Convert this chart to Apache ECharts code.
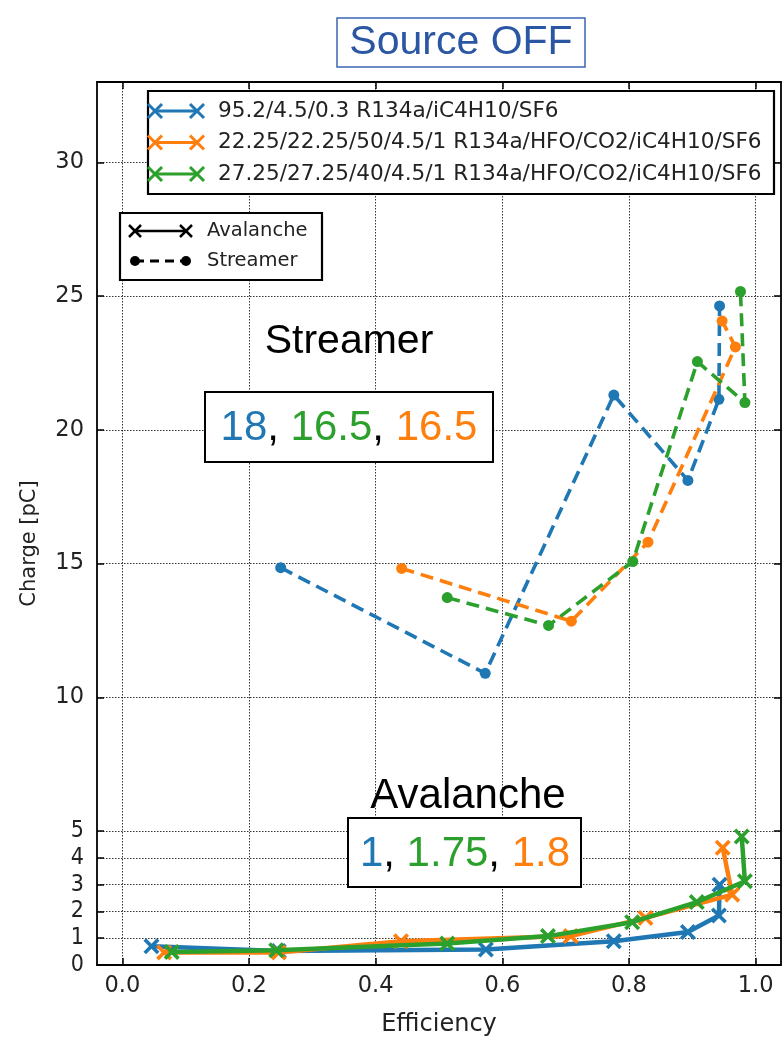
<!DOCTYPE html>
<html><head><meta charset="utf-8">
<script src="https://cdn.jsdelivr.net/npm/echarts@6/dist/echarts.min.js"></script>
<style>html,body{margin:0;padding:0;background:#fff}#c{width:783px;height:1039px}</style>
</head><body><div id="c"></div>
<script>
// ---- data ----
const seriesNames = ['95.2/4.5/0.3 R134a/iC4H10/SF6', '22.25/22.25/50/4.5/1 R134a/HFO/CO2/iC4H10/SF6', '27.25/27.25/40/4.5/1 R134a/HFO/CO2/iC4H10/SF6'];
const colors = ['#1f77b4', '#ff7f0e', '#2ca02c'];

const avaBlueX = [0.046, 0.247, 0.574, 0.776, 0.893, 0.942, 0.943];
const avaBlueY = [0.70, 0.52, 0.58, 0.89, 1.23, 1.85, 3.00];
const strBlueX = [0.250, 0.573, 0.776, 0.893, 0.942, 0.943];
const strBlueY = [14.85, 10.90, 21.30, 18.11, 21.14, 24.63];

const avaOrangeX = [0.066, 0.247, 0.440, 0.708, 0.826, 0.963, 0.948];
const avaOrangeY = [0.47, 0.47, 0.89, 1.08, 1.76, 2.63, 4.38];
const strOrangeX = [0.441, 0.709, 0.830, 0.968, 0.947];
const strOrangeY = [14.82, 12.85, 15.80, 23.10, 24.07];

const avaGreenX = [0.078, 0.243, 0.513, 0.672, 0.805, 0.907, 0.983, 0.978];
const avaGreenY = [0.49, 0.55, 0.80, 1.08, 1.60, 2.35, 3.13, 4.80];
const strGreenX = [0.513, 0.673, 0.806, 0.908, 0.983, 0.976];
const strGreenY = [13.73, 12.69, 15.08, 22.55, 21.02, 25.17];

const yTicks = [0, 1, 2, 3, 4, 5, 10, 15, 20, 25, 30];
const xTicks = [0, 0.2, 0.4, 0.6, 0.8, 1.0];
const streamerValues = ['18', '16.5', '16.5'];   // blue, green, orange
const avalancheValues = ['1', '1.75', '1.8'];    // blue, green, orange

// ---- helpers ----
const zip = (xs, ys) => xs.map((x, i) => [x, ys[i]]);
const XSYM = 'path://M0,1.6L1.6,0L5,3.4L8.4,0L10,1.6L6.6,5L10,8.4L8.4,10L5,6.6L1.6,10L0,8.4L3.4,5Z';
const FONT = 'DejaVu Sans';
const HFONT = 'Liberation Sans';

const groups = [
  [avaBlueX, avaBlueY, strBlueX, strBlueY],
  [avaOrangeX, avaOrangeY, strOrangeX, strOrangeY],
  [avaGreenX, avaGreenY, strGreenX, strGreenY]
];
const series = [];
groups.forEach((g, i) => {
  series.push({
    name: seriesNames[i] + ' Avalanche', type: 'line', data: zip(g[0], g[1]),
    symbol: XSYM, symbolSize: 16, showSymbol: true,
    itemStyle: { color: colors[i] },
    lineStyle: { color: colors[i], width: 4.5 },
    z: 3 + i, animation: false, silent: true
  });
  series.push({
    name: seriesNames[i] + ' Streamer', type: 'line', data: zip(g[2], g[3]),
    symbol: 'circle', symbolSize: 11, showSymbol: true,
    itemStyle: { color: colors[i] },
    lineStyle: { color: colors[i], width: 3.6, type: [13, 7] },
    z: 3 + i, animation: false, silent: true
  });
});

const gridLine = { show: true, lineStyle: { color: '#333', width: 1, type: [1.5, 1.5] } };
const tickStyle = { show: true, inside: true, length: 7, lineStyle: { color: '#000', width: 1.5 } };
const lineStyleAx = { show: true, onZero: false, lineStyle: { color: '#000', width: 1.8 } };

// ---- legend graphics ----
function xMark(cx, cy, color, h, w) {
  return [
    { type: 'line', shape: { x1: cx - h, y1: cy - h, x2: cx + h, y2: cy + h }, style: { stroke: color, lineWidth: w }, z: 101 },
    { type: 'line', shape: { x1: cx - h, y1: cy + h, x2: cx + h, y2: cy - h }, style: { stroke: color, lineWidth: w }, z: 101 }
  ];
}
const graphics = [];
// legend 1
graphics.push({ type: 'rect', shape: { x: 148, y: 91, width: 626, height: 103 }, style: { fill: '#fff', stroke: '#000', lineWidth: 2.2 }, z: 100 });
seriesNames.forEach((n, i) => {
  const y = 111 + i * 31.5;
  graphics.push({ type: 'line', shape: { x1: 155, y1: y, x2: 197, y2: y }, style: { stroke: colors[i], lineWidth: 3 }, z: 101 });
  graphics.push(...xMark(155, y, colors[i], 7, 3), ...xMark(197, y, colors[i], 7, 3));
  graphics.push({ type: 'text', x: 218, y: y, style: { text: n, font: '21.6px "' + FONT + '"', fill: '#222', verticalAlign: 'middle' }, z: 101 });
});
// legend 2
graphics.push({ type: 'rect', shape: { x: 120, y: 213, width: 202, height: 67 }, style: { fill: '#fff', stroke: '#000', lineWidth: 2.2 }, z: 100 });
graphics.push({ type: 'line', shape: { x1: 135, y1: 231, x2: 186, y2: 231 }, style: { stroke: '#000', lineWidth: 2.5 }, z: 101 });
graphics.push(...xMark(135, 231, '#000', 6, 2.5), ...xMark(186, 231, '#000', 6, 2.5));
graphics.push({ type: 'text', x: 207, y: 231, style: { text: 'Avalanche', font: '19.5px "' + FONT + '"', fill: '#222', verticalAlign: 'middle' }, z: 101 });
graphics.push({ type: 'line', shape: { x1: 135, y1: 261, x2: 186, y2: 261 }, style: { stroke: '#000', lineWidth: 2.8, lineDash: [9, 6] }, z: 101 });
graphics.push({ type: 'circle', shape: { cx: 135, cy: 261, r: 5 }, style: { fill: '#000' }, z: 101 });
graphics.push({ type: 'circle', shape: { cx: 186, cy: 261, r: 5 }, style: { fill: '#000' }, z: 101 });
graphics.push({ type: 'text', x: 207, y: 261, style: { text: 'Streamer', font: '19.5px "' + FONT + '"', fill: '#222', verticalAlign: 'middle' }, z: 101 });

// title
graphics.push({ type: 'rect', shape: { x: 337, y: 18, width: 248, height: 49 }, style: { fill: '#fff', stroke: '#3a66b3', lineWidth: 1.5 }, z: 100 });
graphics.push({ type: 'text', x: 461, y: 43, style: { text: 'Source OFF', font: '41px "' + HFONT + '"', fill: '#2b56a3', align: 'center', verticalAlign: 'middle' }, z: 101 });

// annotations
const richVals = (size) => ({
  b: { fill: colors[0], fontSize: size, fontFamily: HFONT },
  g: { fill: colors[2], fontSize: size, fontFamily: HFONT },
  o: { fill: colors[1], fontSize: size, fontFamily: HFONT },
  k: { fill: '#000', fontSize: size, fontFamily: HFONT }
});
graphics.push({ type: 'text', x: 349, y: 342, style: { text: 'Streamer', font: '41px "' + HFONT + '"', fill: '#000', align: 'center', verticalAlign: 'middle' }, z: 101 });
graphics.push({ type: 'rect', shape: { x: 205, y: 392, width: 288, height: 70 }, style: { fill: '#fff', stroke: '#000', lineWidth: 2 }, z: 100 });
graphics.push({ type: 'text', x: 349, y: 428, style: {
  text: '{b|' + streamerValues[0] + '}{k|, }{g|' + streamerValues[1] + '}{k|, }{o|' + streamerValues[2] + '}',
  rich: richVals(42), align: 'center', verticalAlign: 'middle' }, z: 101 });
graphics.push({ type: 'text', x: 468, y: 796, style: { text: 'Avalanche', font: '42px "' + HFONT + '"', fill: '#000', align: 'center', verticalAlign: 'middle' }, z: 101 });
graphics.push({ type: 'rect', shape: { x: 348, y: 818, width: 233, height: 69 }, style: { fill: '#fff', stroke: '#000', lineWidth: 2 }, z: 100 });
graphics.push({ type: 'text', x: 465, y: 854, style: {
  text: '{b|' + avalancheValues[0] + '}{k|, }{g|' + avalancheValues[1] + '}{k|, }{o|' + avalancheValues[2] + '}',
  rich: richVals(42), align: 'center', verticalAlign: 'middle' }, z: 101 });

const chart = echarts.init(document.getElementById('c'), null, { renderer: 'canvas' });
chart.setOption({
  animation: false,
  backgroundColor: '#fff',
  grid: { left: 97, right: 2, top: 82, bottom: 74, outerBoundsMode: 'none', containLabel: false },
  xAxis: [
    { type: 'value', min: -0.04, max: 1.04, position: 'bottom',
      name: 'Efficiency', nameLocation: 'middle', nameGap: 48,
      nameTextStyle: { fontFamily: FONT, fontSize: 24, color: '#222' },
      axisLine: lineStyleAx, axisTick: Object.assign({ customValues: xTicks }, tickStyle),
      axisLabel: { customValues: xTicks, formatter: v => v.toFixed(1), fontFamily: FONT, fontSize: 22.5, color: '#222', margin: 10 },
      splitLine: gridLine },
    { type: 'value', min: -0.04, max: 1.04, position: 'top',
      axisLine: lineStyleAx, axisTick: Object.assign({ customValues: xTicks }, tickStyle),
      axisLabel: { show: false }, splitLine: { show: false } }
  ],
  yAxis: [
    { type: 'value', min: 0, max: 33, position: 'left',
      name: 'Charge [pC]', nameLocation: 'middle', nameGap: 57, nameRotate: 90,
      nameTextStyle: { fontFamily: FONT, fontSize: 21, color: '#222', padding: [0, 40, 0, 0] },
      axisLine: lineStyleAx, axisTick: Object.assign({ customValues: yTicks }, tickStyle),
      axisLabel: { customValues: yTicks, margin: 13,
        formatter: v => (v <= 5 ? '{c|' + v + '}' : '{n|' + v + '}'),
        rich: {
          c: { fontFamily: '"DejaVu Sans Condensed", "DejaVu Sans"', fontSize: 23, color: '#222' },
          n: { fontFamily: FONT, fontSize: 22.5, color: '#222' }
        } },
      splitLine: gridLine },
    { type: 'value', min: 0, max: 33, position: 'right',
      axisLine: lineStyleAx, axisTick: Object.assign({ customValues: yTicks }, tickStyle),
      axisLabel: { show: false }, splitLine: { show: false } }
  ],
  series: series,
  graphic: graphics
});
</script>
</body></html>
